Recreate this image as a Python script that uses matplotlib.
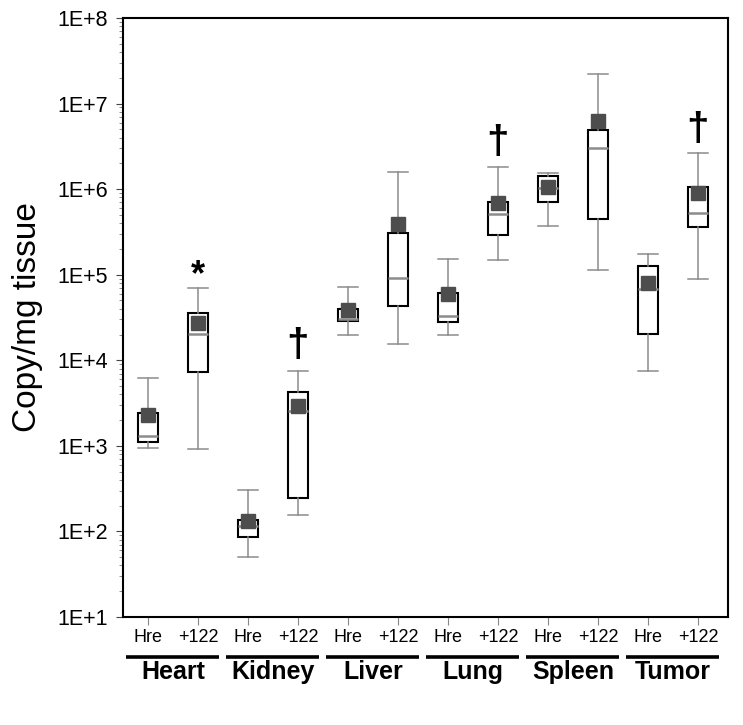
# Box plots of copy number per tissue (Hre vs +122), log scale
import matplotlib
matplotlib.use('Agg')
import matplotlib.pyplot as plt
from matplotlib.transforms import blended_transform_factory

plt.rcParams['font.family'] = ['Liberation Sans', 'DejaVu Sans']

# data
tissues = ['Heart', 'Kidney', 'Liver', 'Lung', 'Spleen', 'Tumor']
conditions = ['Hre', '+122']
whis_lo = [940, 920, 50, 155, 19800, 15600, 19800, 148000, 372000, 113000, 7450, 88500]
q1 = [1105, 7260, 87, 245, 28800, 43200, 28300, 289000, 703000, 445000, 20300, 362000]
medians = [1310, 20500, 116, 2570, 30500, 92600, 33300, 509000, 1040000, 3050000, 68200, 527000]
q3 = [2410, 35500, 137, 4310, 39200, 305000, 61800, 714000, 1440000, 4870000, 128000, 1070000]
whis_hi = [6180, 69500, 303, 7520, 71400, 1570000, 152000, 1800000, 1560000, 22000000, 173000, 2620000]
means = [2300, 27300, 134, 2960, 38800, 392000, 59200, 696000, 1050000, 6260000, 80200, 903000]
# significance marks: (box index, symbol, y position)
marks = [(2, '*', 9.7e4), (4, '\u2020', 1.47e4), (8, '\u2020', 3.5e6), (12, '\u2020', 4.9e6)]

fig = plt.figure(figsize=(7.43, 7.25), dpi=100)
ax = fig.add_axes([0.1655, 0.149, 0.8143, 0.8262])

stats = []
for i in range(len(medians)):
    stats.append(dict(whislo=whis_lo[i], q1=q1[i], med=medians[i], q3=q3[i],
                      whishi=whis_hi[i], mean=means[i], fliers=[]))

positions = list(range(1, len(stats) + 1))
ax.bxp(stats, positions=positions, widths=0.4, showmeans=True, patch_artist=True,
       boxprops=dict(facecolor='white', edgecolor='black', linewidth=1.5),
       whiskerprops=dict(color='#8c8c8c', linewidth=1.1),
       capprops=dict(color='#8c8c8c', linewidth=1.1),
       capwidths=0.4,
       medianprops=dict(color='#8c8c8c', linewidth=1.8),
       meanprops=dict(marker='s', markerfacecolor='#4d4d4d', markeredgecolor='#4d4d4d',
                      markersize=10))

ax.set_yscale('log')
ax.set_ylim(10, 1e8)
ax.set_xlim(0.5, 12.6)
ax.set_yticks([10 ** k for k in range(1, 9)])
ax.set_yticklabels(['1E+%d' % k for k in range(1, 9)], fontsize=15.5)
ax.tick_params(axis='y', which='major', length=5, pad=6, color='#444444')
ax.tick_params(axis='y', which='minor', length=3, color='#777777')
ax.set_xticks(positions)
ax.set_xticklabels(conditions * len(tissues), fontsize=13)
ax.tick_params(axis='x', length=6, pad=3, color='#888888')
ax.set_ylabel('Copy/mg tissue', fontsize=24, labelpad=10)
for sp in ax.spines.values():
    sp.set_linewidth(1.5)

for pos, sym, yv in marks:
    fs = 26 if sym == '*' else 29
    ax.text(pos, yv, sym, ha='center', va='center', fontsize=fs, fontweight='bold')

# group underline and tissue names
trans = blended_transform_factory(ax.transData, fig.transFigure)
for g, name in enumerate(tissues):
    c = 2 * g + 1.5
    ax.plot([c - 0.93, c + 0.93], [0.0938, 0.0938], color='black', lw=2.6,
            transform=trans, clip_on=False, solid_capstyle='butt')
    ax.text(c, 0.073, name, ha='center', va='center', fontsize=18,
            fontweight='bold', transform=trans)

fig.savefig('out.png', dpi=100)
